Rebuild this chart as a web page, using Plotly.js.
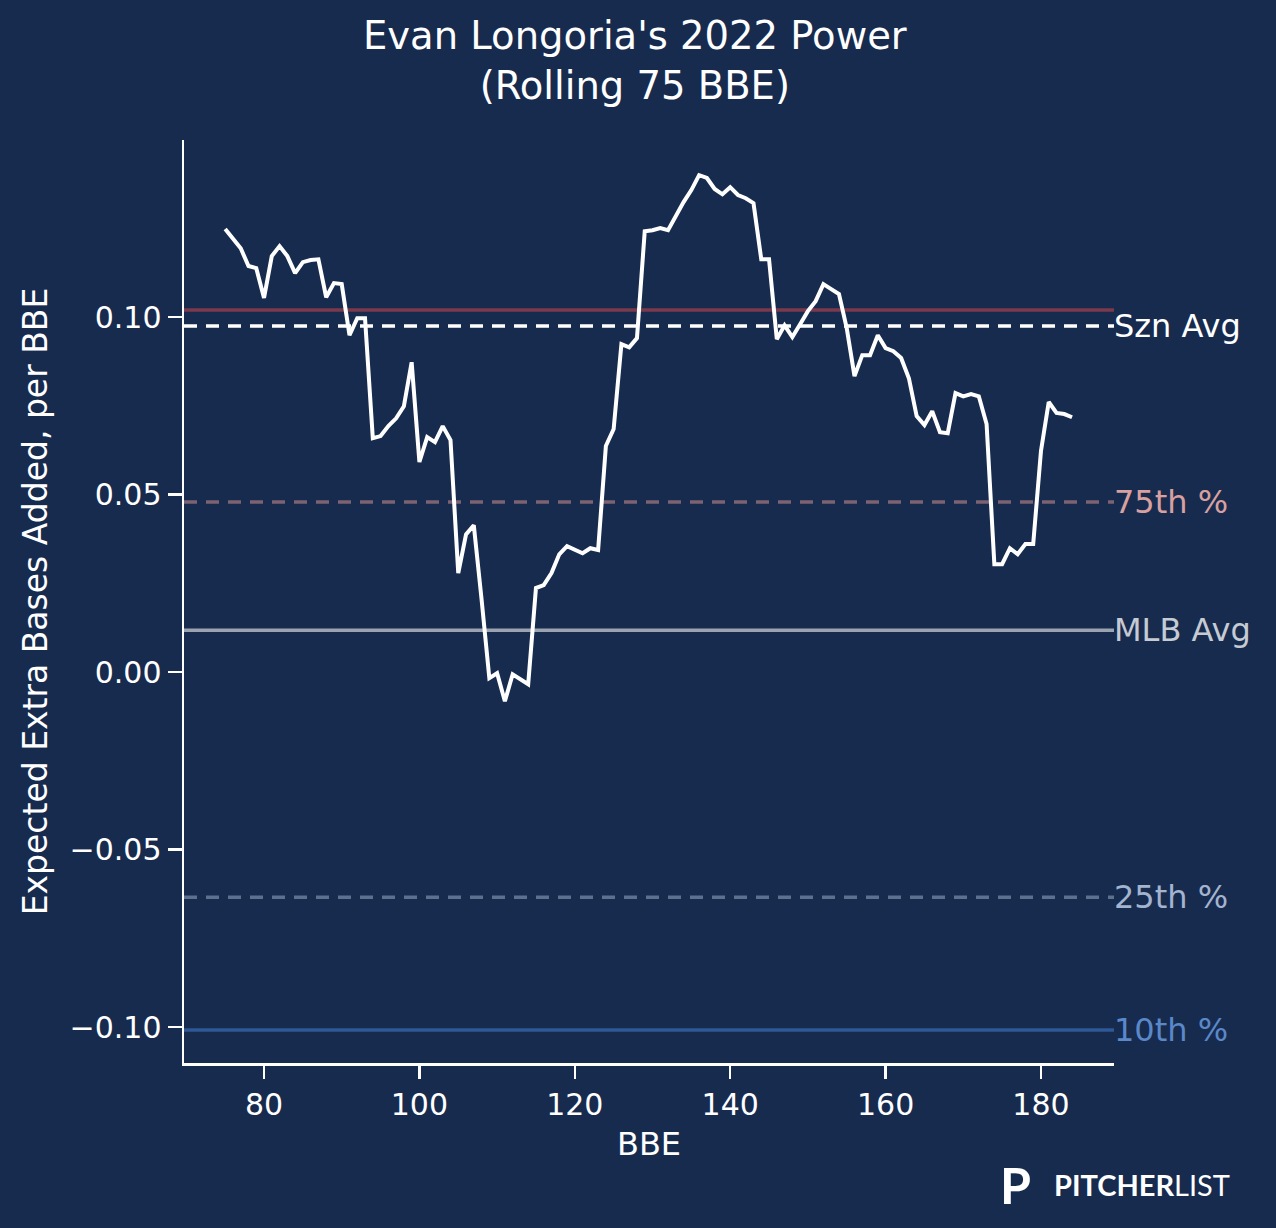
<!DOCTYPE html>
<html>
<head>
<meta charset="utf-8">
<script src="https://cdn.plot.ly/plotly-3.0.1.min.js"></script>
<style>
  body { margin: 0; background: #172b4f; }
  #myGraph { width: 1276px; height: 1228px; }
</style>
</head>
<body>
<div id="myGraph"></div>
<script>
let myGraph = document.getElementById('myGraph');

// rolling 75 BBE, one value per batted ball event
let bbe = [];
for (let i = 75; i <= 184; i++) bbe.push(i);

let xeba = [
  0.1248, 0.1220, 0.1194, 0.1144, 0.1138, 0.1054, 0.1172, 0.1200, 0.1172, 0.1124, // 75-84
  0.1155, 0.1161, 0.1163, 0.1056, 0.1096, 0.1093, 0.0949, 0.0997, 0.0997, 0.0659, // 85-94
  0.0665, 0.0693, 0.0715, 0.0749, 0.0873, 0.0592, 0.0662, 0.0648, 0.0693, 0.0654, // 95-104
  0.0279, 0.0388, 0.0414, 0.0205, -0.0017, -0.0003, -0.0082, -0.0006, -0.0020, -0.0034, // 105-114
  0.0237, 0.0245, 0.0279, 0.0332, 0.0355, 0.0346, 0.0335, 0.0349, 0.0344, 0.0637, // 115-124
  0.0685, 0.0924, 0.0915, 0.0941, 0.1242, 0.1245, 0.1251, 0.1245, 0.1285, 0.1324, // 125-134
  0.1358, 0.1400, 0.1392, 0.1361, 0.1346, 0.1366, 0.1344, 0.1335, 0.1321, 0.1163, // 135-144
  0.1163, 0.0938, 0.0977, 0.0944, 0.0980, 0.1017, 0.1045, 0.1093, 0.1079, 0.1065, // 145-154
  0.0969, 0.0834, 0.0893, 0.0893, 0.0949, 0.0913, 0.0904, 0.0885, 0.0828, 0.0721, // 155-164
  0.0696, 0.0735, 0.0676, 0.0673, 0.0786, 0.0777, 0.0783, 0.0777, 0.0699, 0.0304, // 165-174
  0.0304, 0.0349, 0.0332, 0.0361, 0.0361, 0.0623, 0.0761, 0.0730, 0.0727, 0.0718  // 175-184
];

// reference lines
let refNames  = ["Szn Avg", "75th %", "MLB Avg", "25th %", "10th %"];
let refValues = [0.0975, 0.0479, 0.0118, -0.0634, -0.1008];
let ninetieth = 0.1020;

let refStyles = [
  { color: "#ffffff", dash: "13px,9px", label: "#ffffff" },
  { color: "#7d6272", dash: "13px,9px", label: "#d9a0a0" },
  { color: "#9ba3b1", dash: "solid",    label: "#c5cad3" },
  { color: "#5c7090", dash: "13px,9px", label: "#a3b4cf" },
  { color: "#2e5896", dash: "solid",    label: "#5a88c8" },
];

let shapes = [{
  type: "line", xref: "paper", yref: "y",
  x0: 0, x1: 1, y0: ninetieth, y1: ninetieth,
  line: { color: "#7b3a4c", width: 3.5 },
  layer: "below",
}];
let annotations = [];

refValues.forEach((v, i) => {
  shapes.push({
    type: "line", xref: "paper", yref: "y",
    x0: 0, x1: 1, y0: v, y1: v,
    line: { color: refStyles[i].color, width: 3.5, dash: refStyles[i].dash },
    layer: "below",
  });
  annotations.push({
    xref: "paper", yref: "y", x: 1, y: v,
    xanchor: "left", yanchor: "middle", xshift: -2,
    text: refNames[i], showarrow: false,
    font: { size: 32, color: refStyles[i].label },
  });
});

// title (centred on the figure, not the plot area)
annotations.push({
  xref: "paper", yref: "paper", x: 0.4845, y: 1.0856,
  xanchor: "center", yanchor: "middle",
  text: "Evan Longoria's 2022 Power<br>(Rolling 75 BBE)", showarrow: false,
  font: { size: 38.5, color: "#ffffff" },
});

// logo
annotations.push({
  xref: "paper", yref: "paper", x: 1.0, y: -0.132,
  xanchor: "left", yanchor: "middle", xshift: -116,
  text: "<b>P</b>", showarrow: false,
  font: { size: 50, color: "#ffffff", family: "Lato, DejaVu Sans" },
});
annotations.push({
  xref: "paper", yref: "paper", x: 1.0, y: -0.132,
  xanchor: "left", yanchor: "middle", xshift: -62,
  text: "<b>PITCHER</b>LIST", showarrow: false,
  font: { size: 29, color: "#ffffff", family: "Lato, DejaVu Sans" },
});

let trace1 = {
  type: "scatter",
  mode: "lines",
  x: bbe,
  y: xeba,
  line: { color: "#ffffff", width: 4 },
  hoverinfo: "skip",
};

let axisFont = { family: "DejaVu Sans", size: 30, color: "#ffffff" };

let layout = {
  width: 1276,
  height: 1228,
  paper_bgcolor: "#172b4f",
  plot_bgcolor: "#172b4f",
  font: { family: "DejaVu Sans", color: "#ffffff" },
  margin: { l: 184, r: 162, t: 140, b: 165 },
  showlegend: false,
  xaxis: {
    range: [69.7, 189.4],
    tickvals: [80, 100, 120, 140, 160, 180],
    showgrid: false,
    zeroline: false,
    showline: true,
    linecolor: "#ffffff",
    linewidth: 2.5,
    ticks: "outside",
    ticklen: 13,
    tickwidth: 2.5,
    tickcolor: "#ffffff",
    tickfont: axisFont,
    title: { text: "BBE", font: { size: 32, color: "#ffffff" }, standoff: 12 },
  },
  yaxis: {
    range: [-0.1101, 0.1499],
    tickvals: [-0.10, -0.05, 0.00, 0.05, 0.10],
    tickformat: ".2f",
    showgrid: false,
    zeroline: false,
    showline: true,
    linecolor: "#ffffff",
    linewidth: 2.5,
    ticks: "outside",
    ticklen: 14,
    tickwidth: 2.5,
    tickcolor: "#ffffff",
    tickfont: axisFont,
    title: { text: "Expected Extra Bases Added, per BBE", font: { size: 33, color: "#ffffff" }, standoff: 12 },
  },
  shapes: shapes,
  annotations: annotations,
};

Plotly.newPlot(myGraph, [trace1], layout, { displayModeBar: false, staticPlot: true });
</script>
</body>
</html>
